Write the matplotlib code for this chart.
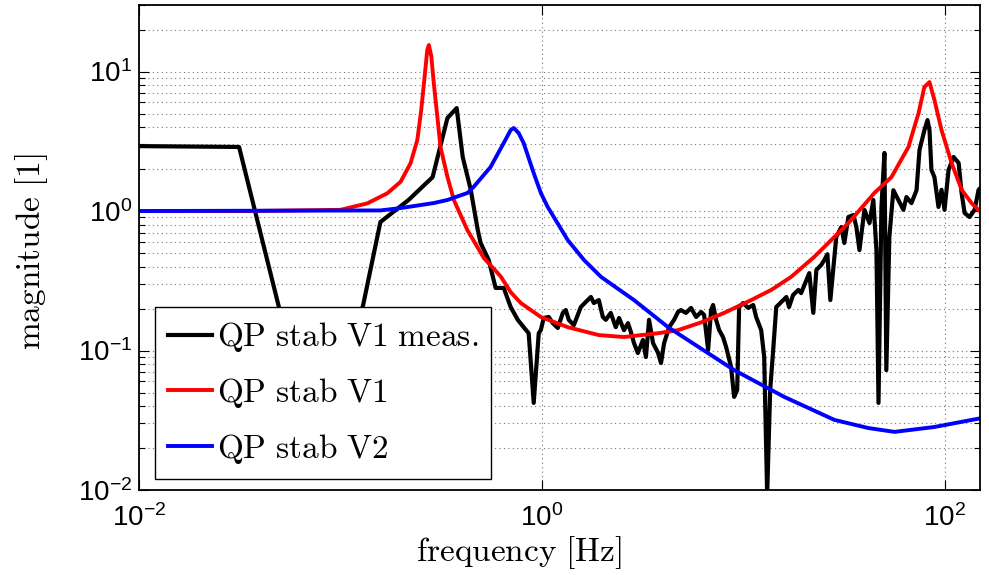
import matplotlib
matplotlib.use('Agg')
import matplotlib.pyplot as plt
from matplotlib.ticker import LogLocator, NullLocator, FixedLocator

plt.rcParams['font.family'] = ['Liberation Sans', 'DejaVu Sans']
plt.rcParams['mathtext.fontset'] = 'custom'
plt.rcParams['mathtext.rm'] = 'Liberation Sans'
plt.rcParams['mathtext.it'] = 'Liberation Sans:italic'
plt.rcParams['mathtext.bf'] = 'Liberation Sans:bold'

meas_freq = [0.01, 0.0314, 0.0491, 0.0795, 0.130, 0.158, 0.218, 0.287, 0.340, 0.378,
             0.405, 0.444, 0.481, 0.497, 0.545, 0.590, 0.647, 0.701, 0.760, 0.813,
             0.861, 0.912, 0.966,
             0.989, 1.023, 1.083, 1.135, 1.201, 1.272, 1.316, 1.362, 1.443, 1.563,
             1.655, 1.754, 1.814, 1.92, 2.01, 2.08, 2.20, 2.33, 2.42, 2.56,
             2.68, 2.77, 2.87, 3.00, 3.18, 3.29, 3.41, 3.57, 3.78, 3.91,
             4.05, 4.29, 4.54, 4.75, 4.91, 5.20, 5.51, 5.84, 6.18, 6.40,
             6.70, 6.93, 7.09, 7.34, 7.60, 7.94, 8.23, 8.71, 9.02, 9.34,
             9.55, 10.0, 10.59, 11.22, 11.6, 12.29, 12.72, 13.16, 13.62, 14.1,
             14.6, 15.5, 16.4, 16.9, 17.7, 18.8, 19.4, 20.6, 21.3, 22.3,
             23.1, 24.4, 25.3, 26.2, 27.1, 29.0, 30.7, 31.8, 33.3, 35.3,
             36.5, 37.8, 40.0, 42.4, 44.3, 45.9, 47.0, 48.6, 50.3, 51.4,
             53.2, 55.7, 59.0, 62.5, 64.7, 68.5, 72.6, 75.1, 79.5, 82.3,
             84.2, 86.1, 89.1, 93.3, 96.6, 100.0, 104.7, 110.9, 117.5, 121.5,
             125.8, 133.1, 141.0, 147.6, 152.8]
meas_mag = [2.92, 2.88, 0.215, 0.0139, 0.215, 0.834, 1.20, 1.75, 4.64, 5.47,
            2.44, 1.42, 0.731, 0.590, 0.446, 0.281, 0.281, 0.205, 0.166, 0.147,
            0.133, 0.0421, 0.133,
            0.140, 0.171, 0.174, 0.157, 0.145, 0.186, 0.195, 0.166, 0.152, 0.205,
            0.223, 0.242, 0.219, 0.230, 0.174, 0.166, 0.186, 0.147, 0.171, 0.140,
            0.157, 0.136, 0.113, 0.0960, 0.119, 0.0898, 0.166, 0.113, 0.0960, 0.0813,
            0.113, 0.147, 0.166, 0.189, 0.195, 0.186, 0.202, 0.174, 0.189, 0.180,
            0.101, 0.195, 0.212, 0.166, 0.140, 0.125, 0.106, 0.0762, 0.0465, 0.0521,
            0.205, 0.219, 0.202, 0.212, 0.174, 0.140, 0.0898, 0.0092, 0.0521, 0.101,
            0.205, 0.223, 0.242, 0.205, 0.250, 0.272, 0.258, 0.320, 0.359, 0.186,
            0.378, 0.410, 0.446, 0.49, 0.23, 0.651, 0.767, 0.590, 0.906, 0.936,
            0.767, 0.525, 1.02, 0.820, 1.20, 0.525, 0.0421, 1.07, 2.61, 0.0724,
            0.651, 1.41, 1.20, 1.02, 1.26, 1.14, 1.41, 2.74, 3.81, 4.49,
            3.81, 1.97, 1.75, 1.07, 1.42, 1.02, 1.97, 2.44, 2.21, 1.35,
            0.968, 0.906, 1.02, 1.42, 1.49]

# model V1
v1_freq = [0.01, 0.0356, 0.1, 0.136, 0.171, 0.199, 0.223, 0.241, 0.252, 0.262,
           0.270, 0.275, 0.283, 0.291, 0.303, 0.314, 0.340, 0.366, 0.427, 0.516,
           0.625, 0.701, 0.787, 0.989, 1.346, 1.92, 2.56, 3.78, 4.75, 6.18,
           8.04, 10.96, 13.8, 17.3, 22.5, 27.4, 33.3, 44.9, 54.5, 66.2,
           70.1, 74.3, 79.4, 84.2, 89.1, 96.6, 108.4, 121.6, 136.2, 152.8]
v1_mag = [1.0, 1.0, 1.02, 1.135, 1.34, 1.62, 2.20, 3.23, 5.30, 9.18,
          14.3, 15.5, 12.8, 8.23, 4.75, 2.89, 1.76, 1.20, 0.731, 0.46,
          0.34, 0.262, 0.219, 0.174, 0.147, 0.129, 0.125, 0.133, 0.140, 0.159,
          0.186, 0.230, 0.272, 0.337, 0.468, 0.62, 0.820, 1.35, 1.75, 2.88,
          3.81, 5.04, 7.74, 8.41, 6.25, 3.81, 2.21, 1.42, 1.14, 0.968]

# model V2
v2_freq = [0.01, 0.158, 0.199, 0.290, 0.340, 0.429, 0.459, 0.557, 0.647, 0.701,
           0.726, 0.768, 0.813, 0.912, 0.989, 1.07, 1.346, 1.62, 1.97, 2.87,
           4.24, 9.02, 16.0, 28.4, 41.9, 56.4, 89.1, 152.8]
v2_mag = [1.0, 1.01, 1.05, 1.14, 1.20, 1.35, 1.49, 2.07, 3.07, 3.81,
          3.94, 3.62, 3.07, 1.87, 1.35, 1.07, 0.619, 0.446, 0.337, 0.230,
          0.147, 0.0724, 0.0465, 0.0318, 0.0278, 0.0261, 0.0283, 0.0328]

labels = [r'$\mathrm{QP\ stab\ V1\ meas.}$', r'$\mathrm{QP\ stab\ V1}$', r'$\mathrm{QP\ stab\ V2}$']
x_ticks = [1e-2, 1e0, 1e2]

fig = plt.figure(figsize=(9.89, 5.75), dpi=100)
ax = fig.add_axes([139 / 989, 85 / 575, 841 / 989, 485 / 575])

ax.plot(meas_freq, meas_mag, color='k', lw=3.0, label=labels[0])
ax.plot(v1_freq, v1_mag, color='r', lw=2.8, label=labels[1])
ax.plot(v2_freq, v2_mag, color='b', lw=2.8, label=labels[2])

ax.set_xscale('log')
ax.set_yscale('log')
ax.set_xlim(1e-2, 150)
ax.set_ylim(1e-2, 30)
ax.xaxis.set_major_locator(FixedLocator(x_ticks))
ax.xaxis.set_minor_locator(NullLocator())
ax.yaxis.set_major_locator(LogLocator(base=10))
ax.yaxis.set_minor_locator(LogLocator(base=10, subs=range(2, 10)))

ax.tick_params(which='both', direction='in', top=True, right=True, labelsize=20)
ax.tick_params(which='major', length=7, width=0.8)
ax.tick_params(which='minor', length=4, width=0.8)
ax.tick_params(axis='x', pad=10)
ax.tick_params(axis='y', pad=5)
for s in ax.spines.values():
    s.set_linewidth(1.3)

ax.grid(which='major', ls=(0, (1, 3)), color='#777777', lw=0.8)
ax.grid(which='minor', axis='y', ls=(0, (1, 3)), color='#777777', lw=0.8)
ax.set_axisbelow(True)

ax.set_xlabel(r'$\mathrm{frequency\ [Hz]}$', fontsize=24, math_fontfamily='cm', va='center')
ax.set_ylabel(r'$\mathrm{magnitude\ [1]}$', fontsize=24, math_fontfamily='cm', va='center')
ax.xaxis.set_label_coords(0.452, -0.128)
ax.yaxis.set_label_coords(-0.128, 0.491)

leg = ax.legend(loc='lower left', bbox_to_anchor=(0.019, 0.0227), borderaxespad=0,
                fontsize=24, handlelength=1.3, handletextpad=0.15, labelspacing=0.65,
                borderpad=0.4, fancybox=False, framealpha=1, edgecolor='k')
leg.get_frame().set_linewidth(1.0)
for t in leg.get_texts():
    t.set_math_fontfamily('cm')

fig.savefig('out.png', dpi=100)
